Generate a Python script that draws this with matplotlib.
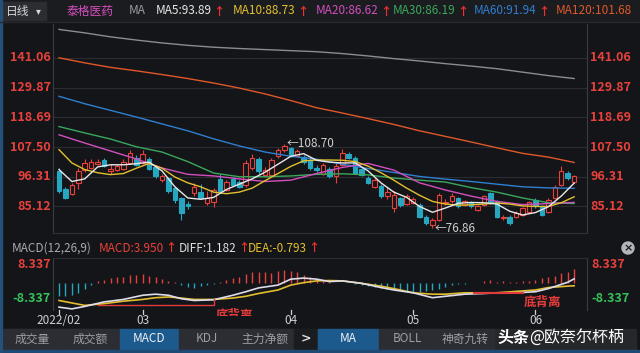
import matplotlib
matplotlib.use('Agg')
import matplotlib.pyplot as plt
from matplotlib.patches import Rectangle, Ellipse

plt.rcParams['font.family'] = ['Noto Sans CJK SC', 'DejaVu Sans']

# ---- data (daily candles, 2022/02 .. 2022/06) ----
opens = [98.5, 91.8, 89.9, 94.0, 98.7, 99.7, 101.2, 102.5, 98.3, 98.7,
         99.3, 101.6, 103.5, 101.5, 103.1, 100.1, 95.1, 95.9, 92.1, 88.4,
         86.0, 90.1, 90.4, 86.4, 86.9, 95.5, 91.4, 95.5, 94.5, 93.3,
         99.6, 103.0, 97.0, 97.0, 104.0, 106.2, 107.1, 104.2, 103.7, 102.7,
         99.5, 97.4, 99.2, 96.4, 100.8, 105.0, 103.4, 99.2, 95.8, 92.6,
         92.9, 88.9, 84.5, 88.3, 86.1, 86.5, 85.7, 81.3, 78.2, 80.1,
         86.3, 87.0, 88.3, 85.7, 86.6, 83.8, 85.7, 90.1, 87.0, 80.8,
         81.3, 81.3, 81.9, 83.2, 87.6, 85.1, 83.2, 88.3, 93.3, 97.7, 94.5]
closes = [91.0, 88.4, 93.3, 98.3, 101.6, 102.0, 102.0, 100.2, 99.3, 100.2,
          102.0, 105.4, 100.8, 105.0, 99.3, 96.7, 96.4, 90.75, 87.6, 82.5,
          85.2, 92.6, 88.3, 88.3, 91.4, 90.75, 94.5, 93.3, 92.6, 101.5,
          103.4, 98.3, 98.9, 102.5, 106.5, 108.0, 104.2, 105.9, 101.9, 99.6,
          99.0, 100.8, 96.7, 100.2, 105.3, 103.4, 97.7, 97.0, 93.9, 95.2,
          88.9, 90.4, 89.5, 85.7, 89.1, 88.0, 81.3, 78.8, 80.1, 89.5,
          86.8, 89.1, 85.1, 87.0, 85.1, 85.1, 88.9, 86.4, 81.3, 81.0,
          78.8, 82.8, 84.5, 86.6, 85.1, 81.9, 87.6, 92.6, 98.3, 95.8, 96.4]
highs = [99.5, 92.5, 94.0, 99.5, 103.0, 102.8, 102.8, 103.5, 101.0, 101.0,
         103.0, 106.5, 104.5, 106.2, 103.8, 100.6, 97.5, 96.3, 92.8, 88.8,
         87.0, 94.0, 93.5, 91.0, 92.0, 97.5, 95.2, 96.2, 95.0, 102.5,
         104.8, 103.8, 99.8, 103.5, 107.2, 108.7, 107.6, 106.8, 104.3, 103.3,
         100.6, 101.6, 99.8, 101.3, 106.8, 105.6, 104.0, 99.8, 96.4, 96.0,
         93.4, 92.3, 91.0, 88.8, 89.8, 88.6, 86.3, 81.8, 80.8, 90.2,
         88.0, 90.0, 88.8, 87.6, 87.2, 85.6, 89.6, 90.7, 87.5, 82.0,
         81.8, 83.4, 85.0, 87.2, 88.2, 85.6, 88.2, 93.2, 100.5, 98.3, 97.0]
lows = [90.0, 87.8, 89.5, 91.5, 98.0, 99.2, 100.8, 99.8, 97.5, 98.3,
        99.0, 101.2, 100.2, 101.0, 98.8, 96.0, 94.2, 90.2, 86.5, 80.0,
        84.0, 89.0, 87.8, 85.5, 85.0, 90.0, 90.8, 92.8, 92.0, 92.5,
        99.0, 97.5, 96.3, 96.5, 103.5, 105.5, 103.8, 103.6, 101.2, 99.0,
        98.0, 97.0, 96.0, 93.9, 100.2, 102.8, 97.2, 96.4, 93.4, 92.2,
        88.3, 88.0, 83.0, 85.0, 85.6, 85.9, 80.8, 78.2, 76.86, 79.6,
        85.5, 86.5, 84.6, 85.2, 84.7, 83.3, 85.2, 85.9, 80.8, 80.0,
        78.2, 80.8, 81.4, 82.8, 84.6, 81.4, 82.8, 87.8, 92.8, 95.2, 94.0]

# moving averages, sampled every 2 candles (fast) / every 4 candles (slow)
fast_idx = list(range(0, 81, 2))
slow_idx = list(range(0, 81, 4))
ma5 = [99.0, 94.5, 95.5, 100.0, 100.8, 100.8, 101.2, 101.8, 98.5, 92.5,
       88.3, 87.8, 88.5, 91.5, 93.5, 95.5, 98.0, 101.0, 104.0, 105.0,
       102.5, 101.8, 101.5, 101.5, 98.5, 94.0, 90.5, 88.5, 85.1, 82.9,
       84.5, 86.3, 86.6, 86.5, 86.0, 83.3, 81.9, 82.8, 85.0, 89.0, 93.89]
ma10 = [106.5, 101.5, 99.0, 97.8, 97.1, 97.5, 99.5, 101.3, 99.5, 96.2,
        94.0, 92.5, 90.5, 89.9, 90.5, 92.0, 94.8, 97.5, 100.2, 102.3,
        102.6, 102.6, 102.5, 102.0, 100.3, 97.8, 95.0, 92.0, 89.3, 87.0,
        86.0, 85.6, 85.7, 86.0, 86.4, 86.0, 85.3, 85.1, 85.1, 86.5, 88.73]
ma20 = [112.1, 109.0, 106.0, 103.0, 99.6, 97.2, 96.6, 95.5, 94.5, 95.0, 97.5,
        99.8, 101.3, 98.8, 94.0, 91.3, 89.0, 87.0, 85.8, 86.2, 86.62]
ma30 = [115.2, 112.8, 110.5, 107.6, 105.6, 102.0, 97.7, 96.3, 96.3, 96.6, 97.2,
        97.4, 97.0, 95.8, 95.0, 94.3, 92.2, 90.5, 88.3, 86.5, 86.19]
ma60 = [126.6, 123.8, 121.3, 118.8, 116.2, 113.6, 110.6, 107.9, 105.6, 104.0, 102.9,
        101.0, 99.4, 97.9, 96.4, 95.4, 94.5, 93.5, 92.5, 92.1, 91.94]
ma120 = [141.1, 139.2, 137.5, 136.2, 134.8, 133.3, 131.6, 129.7, 127.5, 125.0, 122.3,
         120.3, 118.2, 116.0, 113.6, 111.5, 109.4, 107.2, 105.1, 103.7, 101.68]
ma250 = [151.8, 150.5, 149.0, 147.8, 146.7, 145.8, 145.1, 144.6, 144.2, 143.8, 143.4,
         142.7, 141.8, 140.8, 139.9, 138.9, 138.0, 137.0, 135.7, 134.4, 133.3]

price_ticks = [141.06, 129.87, 118.69, 107.50, 96.31, 85.12]
ma_names = ['MA5', 'MA10', 'MA20', 'MA30', 'MA60', 'MA120']
ma_last = [93.89, 88.73, 86.62, 86.19, 91.94, 101.68]

# MACD histogram, one value per candle
macd_hist = [-3.8, -3.8, -3.5, -2.8, -1.6, -0.5, 0.7, 0.9, 1.3, 1.6,
             1.8, 2.3, 2.3, 2.6, 2.0, 1.6, 1.2, 0.7, 0.3, -0.6,
             -1.1, -1.3, -0.9, -0.6, -0.3, 0.2, 0.9, 1.4, 1.8, 2.6,
             3.1, 3.1, 3.1, 2.9, 3.3, 3.6, 3.4, 3.0, 2.3, 1.6,
             0.9, 0.5, 0.2, 0.1, 0.05, -0.1, -0.3, -0.6, -0.9, -1.2,
             -1.5, -1.7, -2.0, -2.1, -2.4, -2.6, -2.7, -2.4, -2.0, -1.7,
             -1.1, -0.5, -0.3, -0.2, 0.05, 0.1, 0.5, 0.9, 0.4, 0.6,
             0.3, 0.2, 0.5, 0.7, 0.9, 1.3, 1.6, 2.1, 2.8, 3.2, 3.95]
line_idx = [0, 2, 4, 7, 10, 13, 15, 17, 19, 21, 24, 27, 29, 31, 34, 36, 38,
            40, 42, 44, 47, 50, 52, 55, 58, 60, 63, 66, 68, 71, 74, 76, 79, 80]
diff = [-6.9, -7.4, -6.7, -5.4, -4.7, -3.5, -3.2, -3.5, -4.5, -5.0, -4.8, -3.5,
        -2.5, -1.4, -0.6, 1.1, 1.4, 1.1, 0.4, 0.6, -0.1, -1.3, -2.0, -2.8,
        -4.2, -3.8, -3.2, -3.0, -2.8, -2.8, -2.5, -1.6, 0.2, 1.182]
dea = [-5.0, -5.7, -6.4, -5.9, -5.2, -4.7, -4.2, -4.0, -4.3, -4.7, -4.7, -4.3,
       -3.8, -3.0, -2.0, -0.6, 0.1, 0.6, 0.7, 0.6, -0.1, -0.9, -1.6, -2.8,
       -3.2, -3.2, -2.8, -2.8, -2.8, -2.4, -2.0, -1.3, -0.9, -0.793]

month_idx = [0, 13, 36, 55, 74]
month_labels = ['2022/02', '03', '04', '05', '06']

# ---- colours ----
BG = '#141519'
GRID = '#2a2c31'
SEP = '#3a3c42'
RED = '#e8413c'
ARROW = '#f0302a'
CYAN = '#27a6c0'
GREEN_TXT = '#35c25a'
ma_colors = ['#e8e8e8', '#e3c02e', '#d24fbf', '#3aa85c', '#2f7fd1', '#e0582a']
GRAY_MA = '#8a8c90'

W, H = 640, 353


def fx(x):
    return x / W


def fy(y):
    return 1 - y / H


fig = plt.figure(figsize=(6.4, 3.53), dpi=100, facecolor=BG)
renderer = fig.canvas.get_renderer()


def frect(x0, y0, x1, y1, color):
    fig.patches.append(Rectangle((fx(x0), fy(y1)), (x1 - x0) / W, (y1 - y0) / H,
                                 transform=fig.transFigure, color=color, zorder=0))


def ftext(x, y, s, **kw):
    kw.setdefault('va', 'center')
    return fig.text(fx(x), fy(y), s, **kw)


def with_arrow(x, y, s, color, size=8.5):
    # label followed by a small red up arrow placed right after it
    t = ftext(x, y, s, color=color, fontsize=size)
    x1 = t.get_window_extent(renderer).x1
    ftext(x1 + 1, y, '↑', color=ARROW, fontsize=8, weight='bold')


# header bar
frect(0, 0, 640, 21, '#1b1c20')
frect(2, 2, 46, 20, '#2c2d32')
ftext(6, 11, '日线', color='#d8d8d8', fontsize=8.5)
ftext(36, 11, '▾', color='#d8d8d8', fontsize=7, family='DejaVu Sans')
ftext(67, 11, '泰格医药', color='#d64fbf', fontsize=8.5)
ftext(129, 11, 'MA', color='#9a9ca2', fontsize=8.5)
lab_x = [156, 233, 316, 393, 474, 556]
for k, (name, val, c, lx) in enumerate(zip(ma_names, ma_last, ma_colors, lab_x)):
    if k < 5:
        with_arrow(lx, 11, f'{name}:{val:.2f}', c)
    else:
        ftext(lx, 11, f'{name}:{val:.2f}', color=c, fontsize=8.5)
fig.lines.append(plt.Line2D([0, 1], [fy(22), fy(22)], transform=fig.transFigure,
                            color='#26282d', lw=1))

# ---- main candlestick panel ----
ax = fig.add_axes([fx(53), fy(233), 534 / W, (233 - 24) / H])
ax.set_facecolor(BG)
ax.set_xlim(-0.93, 82.0)
ax.set_ylim(75.1, 153.84)
ax.set_xticks([])
ax.set_yticks([])
ax.spines['top'].set_visible(False)
for s in ['left', 'right']:
    ax.spines[s].set_color(SEP)
    ax.spines[s].set_linewidth(0.8)
ax.spines['bottom'].set_color('#2e3035')
for p in price_ticks:
    ax.axhline(p, color=GRID, lw=0.8, zorder=0)
    ax.text(-0.004, p, f'{p:.2f}', transform=ax.get_yaxis_transform(), ha='right',
            va='center', color=RED, fontsize=9, weight='bold', clip_on=False)
    ax.text(1.006, p, f'{p:.2f}', transform=ax.get_yaxis_transform(), ha='left',
            va='center', color=RED, fontsize=9, weight='bold', clip_on=False)

bw = 0.7
for i, (o, c, h, l) in enumerate(zip(opens, closes, highs, lows)):
    up = c >= o
    col = RED if up else CYAN
    top, bot = max(o, c), min(o, c)
    if top - bot < 0.3:
        top, bot = (top + bot) / 2 + 0.15, (top + bot) / 2 - 0.15
    ax.vlines(i, top, h, color=col, lw=0.8, zorder=2)
    ax.vlines(i, l, bot, color=col, lw=0.8, zorder=2)
    ax.add_patch(Rectangle((i - bw / 2, bot), bw, top - bot,
                           facecolor=BG if up else CYAN, edgecolor=col, lw=0.8, zorder=3))

ax.plot(slow_idx, ma250, color=GRAY_MA, lw=1.0, zorder=4)
ax.plot(slow_idx, ma120, color=ma_colors[5], lw=1.0, zorder=4)
ax.plot(slow_idx, ma60, color=ma_colors[4], lw=1.0, zorder=4)
ax.plot(slow_idx, ma30, color=ma_colors[3], lw=1.0, zorder=4)
ax.plot(slow_idx, ma20, color=ma_colors[2], lw=1.0, zorder=4)
ax.plot(fast_idx, ma10, color=ma_colors[1], lw=1.0, zorder=4)
ax.plot(fast_idx, ma5, color=ma_colors[0], lw=1.0, zorder=5)

hi_i = highs.index(max(highs[20:50]))
lo_i = lows.index(min(lows))
ax.text(hi_i + 0.3, highs[hi_i], '←' + f'{highs[hi_i]:.2f}', color='#cfcfcf',
        fontsize=8.5, ha='left', va='center', zorder=6)
ax.text(lo_i + 0.3, lows[lo_i], '←' + f'{lows[lo_i]:.2f}', color='#cfcfcf',
        fontsize=8.5, ha='left', va='center', zorder=6)

# ---- MACD header ----
ftext(12, 248, 'MACD(12,26,9)', color='#a8aab0', fontsize=8.5)
with_arrow(99, 248, 'MACD:3.950', RED)
with_arrow(179, 248, 'DIFF:1.182', '#e0e0e0')
with_arrow(248, 248, 'DEA:-0.793', '#e3c02e')
fig.patches.append(Ellipse((fx(628), fy(248)), 12 / W, 12 / H, transform=fig.transFigure,
                           color='#b4b6ba', zorder=1))
ftext(628, 248, '×', color='#1b1c20', fontsize=8, ha='center', weight='bold',
      family='DejaVu Sans')

# ---- MACD panel ----
axm = fig.add_axes([fx(53), fy(316), 534 / W, (316 - 258) / H])
axm.set_facecolor('none')
axm.set_xlim(-0.93, 82.0)
axm.set_ylim(-9.43, 7.14)
axm.set_xticks([])
axm.set_yticks([])
for s in axm.spines.values():
    s.set_visible(False)
for xx in (53, 587):
    fig.lines.append(plt.Line2D([fx(xx), fx(xx)], [fy(258), fy(310)],
                                transform=fig.transFigure, color=SEP, lw=0.8))
fig.lines.append(plt.Line2D([fx(53), fx(587)], [fy(258), fy(258)],
                            transform=fig.transFigure, color=GRID, lw=0.8))

for i, v in enumerate(macd_hist):
    axm.vlines(i, 0, v if abs(v) > 0.12 else (0.12 if v >= 0 else -0.12),
               color=RED if v >= 0 else CYAN, lw=1.0, zorder=2)
axm.plot(line_idx, dea, color='#e3bd2e', lw=1.2, zorder=3)
axm.plot(line_idx, diff, color='#dcdcec', lw=1.2, zorder=4)

axm.plot([6, 24, 24], [-6.2, -6.2, -4.7], color='#e03c3c', lw=1.0, zorder=5)
axm.plot([64.5, 72.0], [-2.8, -2.8], color='#e03c3c', lw=1.5, zorder=5)
axm.text(24.3, -7.4, '底背离', color='#e83c3c', fontsize=9, weight='bold',
         ha='left', va='top', zorder=6, clip_on=True)
axm.text(72.2, -5.5, '底背离', color='#e83c3c', fontsize=9, weight='bold',
         ha='left', va='center', zorder=6)

for lab_y, val, c in ((264, '8.337', RED), (299, '-8.337', GREEN_TXT)):
    ftext(51, lab_y, val, color=c, fontsize=9, weight='bold', ha='right')
    ftext(591, lab_y, val, color=c, fontsize=9, weight='bold', ha='left')

# month ticks and labels
xt = axm.get_xaxis_transform()
for mi, ml in zip(month_idx, month_labels):
    axm.plot([mi, mi], [(316 - 310) / 58, (316 - 314) / 58], transform=xt,
             color='#d0d0d0', lw=0.9, clip_on=False)
    axm.text(mi, (316 - 321) / 58, ml, transform=xt, ha='center', va='center',
             color='#cfd0d4', fontsize=8.5, clip_on=False)

# ---- bottom tab bar ----
frect(3, 329, 636, 349, '#26272b')
tabs = [('成交量', 4, 61, False), ('成交额', 62, 119, False), ('MACD', 120, 178, True),
        ('KDJ', 179, 235, False), ('主力净额', 236, 293, False),
        ('MA', 318, 378, True), ('BOLL', 379, 435, False), ('神奇九转', 436, 494, False)]
for name, x0, x1, on in tabs:
    frect(x0, 329, x1, 349, '#1c5a8e' if on else '#2c2d32')
    ftext((x0 + x1) / 2, 339, name, ha='center', fontsize=8.5,
          color='#eef2f6' if on else '#9c9ea5')
frect(294, 329, 316, 349, '#1b1c20')
ftext(301, 339, '>', color='#e0e0e0', fontsize=9, weight='bold', family='DejaVu Sans')
ftext(497, 338, '头条', color='white', fontsize=11.5, weight='bold')
ftext(529, 338, '@欧奈尔杯柄', color='white', fontsize=11.5)

frect(0, 350, 640, 352, '#1e4a73')
frect(0, 0, 1.5, 353, '#24507a')

fig.savefig('out.png', dpi=100, facecolor=BG)
